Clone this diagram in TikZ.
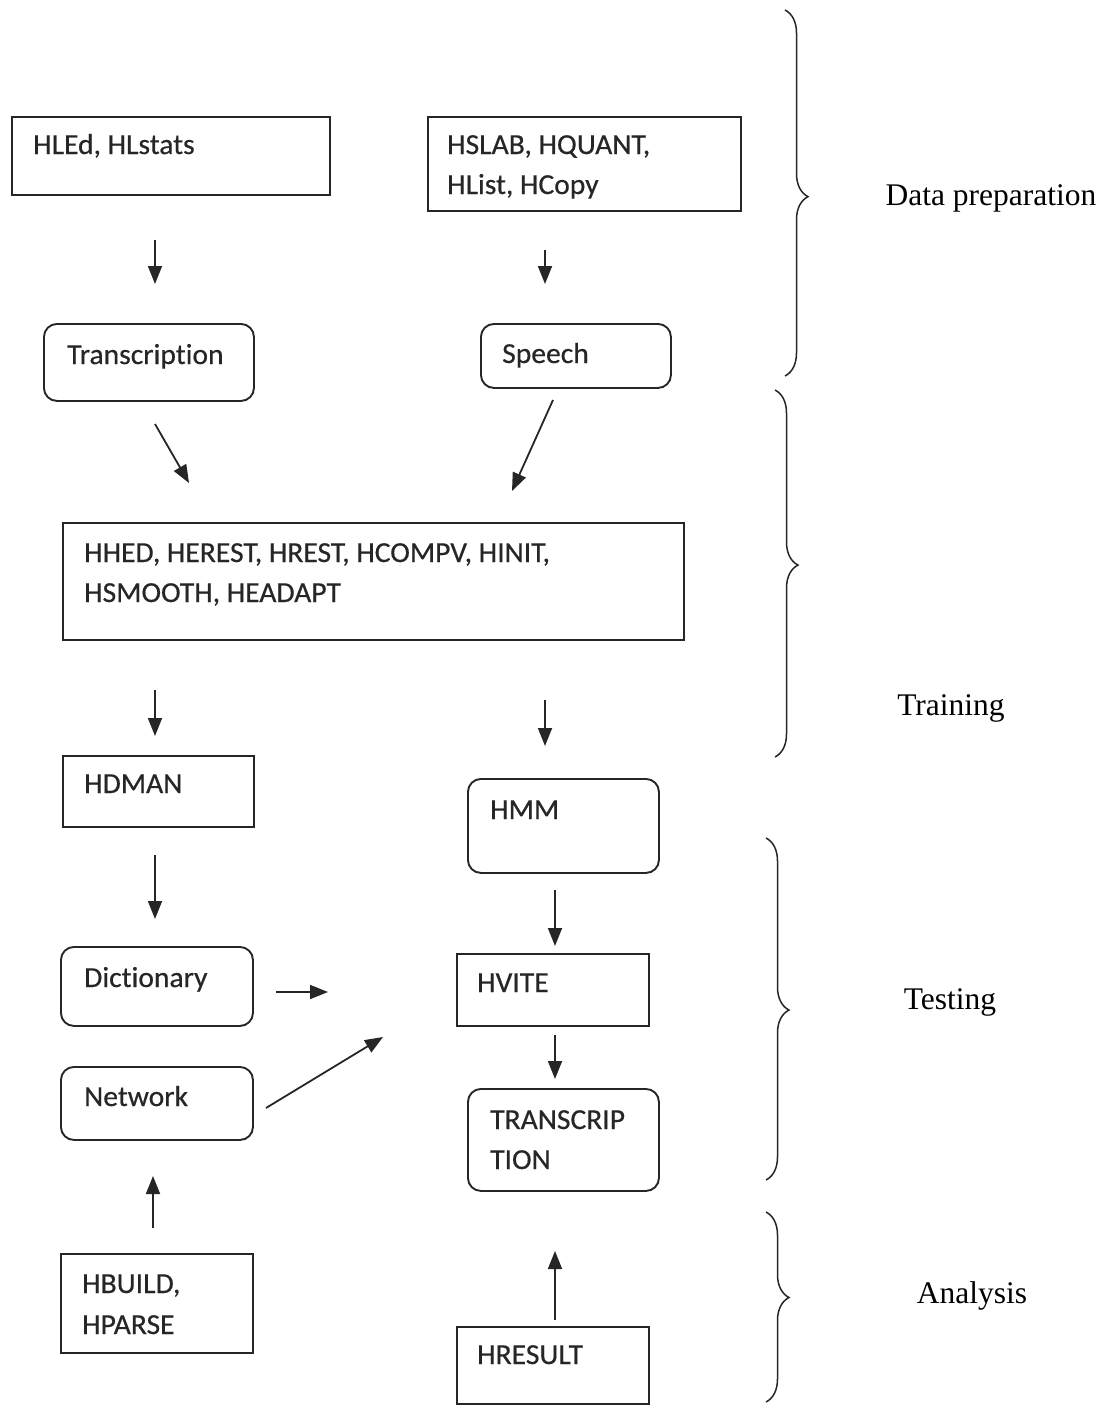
\documentclass[tikz,border=0pt]{standalone}
\usepackage{fontspec}
\setmainfont{Liberation Serif}
\newfontfamily\boxfont[Ligatures=NoCommon,FakeStretch=1.02,FakeBold=0.5]{Carlito}
\usetikzlibrary{arrows.meta,decorations.pathreplacing}
\definecolor{ink}{HTML}{262626}
\tikzset{
 sqbox/.style={draw=ink,line width=1.9pt,rectangle,anchor=north west,inner sep=0pt},
 rbox/.style={sqbox,rounded corners=13pt},
 txt/.style={anchor=base west,inner sep=0pt,font=\boxfont\fontsize{29}{40}\selectfont,text=ink},
 lbl/.style={font=\fontsize{31.5}{38}\selectfont,inner sep=0pt,text=black},
 arr/.style={draw=ink,line width=1.8pt,-{Triangle[length=18pt,width=14pt]}},
 brc/.style={draw=ink,line width=1.5pt,decorate,decoration={brace,amplitude=23pt,aspect=#1}},
}
\begin{document}
\begin{tikzpicture}[x=1pt,y=-1pt]
\useasboundingbox (0,0) rectangle (1106,1405);
% boxes
\node[sqbox,minimum width=318pt,minimum height=78pt] (hled) at (11,116) {};
\node[txt] (hled-t) at (33,154) {HLEd, HLstats};
\node[sqbox,minimum width=313pt,minimum height=94pt] (hslab) at (427,116) {};
\node[txt] (hslab-t1) at (447,154) {HSLAB, HQUANT,};
\node[txt] (hslab-t2) at (447,194) {HList, HCopy};
\node[rbox,minimum width=210pt,minimum height=77pt] (transc) at (43,323) {};
\node[txt] (transc-t) at (67,364) {Transcription};
\node[rbox,minimum width=190pt,minimum height=64pt] (speech) at (480,323) {};
\node[txt] (speech-t) at (502,363) {Speech};
\node[sqbox,minimum width=621pt,minimum height=117pt] (train) at (62,522) {};
\node[txt] (train-t1) at (84,562) {HHED, HEREST, HREST, HCOMPV, HINIT,};
\node[txt] (train-t2) at (84,602) {HSMOOTH, HEADAPT};
\node[sqbox,minimum width=191pt,minimum height=71pt] (hdman) at (62,755) {};
\node[txt] (hdman-t) at (84,793) {HDMAN};
\node[rbox,minimum width=191pt,minimum height=94pt] (hmm) at (467,778) {};
\node[txt] (hmm-t) at (490,819) {HMM};
\node[rbox,minimum width=192pt,minimum height=79pt] (dict) at (60,946) {};
\node[txt] (dict-t) at (84,987) {Dictionary};
\node[sqbox,minimum width=192pt,minimum height=72pt] (hvite) at (456,953) {};
\node[txt] (hvite-t) at (477,992) {HVITE};
\node[rbox,minimum width=192pt,minimum height=73pt] (net) at (60,1066) {};
\node[txt] (net-t) at (84,1106) {Network};
\node[rbox,minimum width=191pt,minimum height=102pt] (tout) at (467,1088) {};
\node[txt] (tout-t1) at (490,1129) {TRANSCRIP};
\node[txt] (tout-t2) at (490,1169) {TION};
\node[sqbox,minimum width=192pt,minimum height=99pt] (hbuild) at (60,1253) {};
\node[txt] (hbuild-t1) at (82,1293) {HBUILD,};
\node[txt] (hbuild-t2) at (82,1334) {HPARSE};
\node[sqbox,minimum width=192pt,minimum height=77pt] (hres) at (456,1326) {};
\node[txt] (hres-t) at (477,1364) {HRESULT};
% arrow end points (arrows float between the boxes)
\coordinate (a1s) at (155,240);  \coordinate (a1e) at (155,284);
\coordinate (a2s) at (545,250);  \coordinate (a2e) at (545,284);
\coordinate (a3s) at (155,424);  \coordinate (a3e) at (189,483);
\coordinate (a4s) at (553,400);  \coordinate (a4e) at (512,491);
\coordinate (a5s) at (155,690);  \coordinate (a5e) at (155,736);
\coordinate (a6s) at (545,700);  \coordinate (a6e) at (545,746);
\coordinate (a7s) at (155,855);  \coordinate (a7e) at (155,919);
\coordinate (a8s) at (555,890);  \coordinate (a8e) at (555,946);
\coordinate (a9s) at (276,992);  \coordinate (a9e) at (328,992);
\coordinate (a10s) at (266,1108); \coordinate (a10e) at (383,1037);
\coordinate (a11s) at (555,1035); \coordinate (a11e) at (555,1079);
\coordinate (a12s) at (153,1228); \coordinate (a12e) at (153,1176);
\coordinate (a13s) at (555,1320); \coordinate (a13e) at (555,1251);
\foreach \i in {1,...,13} \draw[arr] (a\i s) -- (a\i e);
% braces
\draw[brc=0.51] (785,10) -- (785,376);
\draw[brc=0.477] (775,390) -- (775,757);
\draw[brc=0.503] (766,838) -- (766,1180);
\draw[brc=0.45] (766,1212) -- (766,1402);
% phase labels
\node[lbl] (l1) at (991,198) {Data preparation};
\node[lbl] (l2) at (951,708) {Training};
\node[lbl] (l3) at (950,1002) {Testing};
\node[lbl] (l4) at (972,1296) {Analysis};
\end{tikzpicture}
\end{document}
